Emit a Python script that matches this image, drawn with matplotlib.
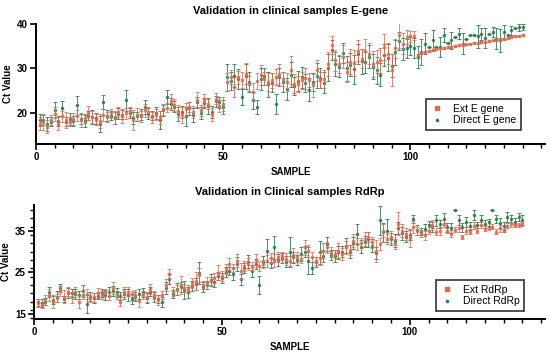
import numpy as np
import matplotlib
matplotlib.use('Agg')
import matplotlib.pyplot as plt
from matplotlib.ticker import MultipleLocator
from matplotlib.lines import Line2D

plt.rcParams['font.family'] = ['Liberation Sans', 'DejaVu Sans']

# E gene: Ct values per sample
ext_e = [17.6, 18.0, 16.9, 18.4, 19.8, 17.6, 19.2, 18.4, 18.0, 18.6,
         19.4, 18.4, 18.8, 19.9, 19.1, 18.5, 18.2, 19.5, 19.0, 19.9,
         19.0, 20.2, 19.3, 19.9, 20.4, 18.4, 19.6, 19.2, 20.6, 20.2,
         19.0, 19.6, 19.0, 20.8, 21.2, 22.6, 21.8, 20.4, 19.6, 20.8,
         21.3, 20.2, 23.0, 20.6, 22.8, 22.0, 19.6, 23.2, 21.6, 22.0,
         27.0, 28.0, 25.8, 28.0, 27.4, 28.8, 26.6, 24.7, 27.2, 28.5,
         27.7, 27.0, 27.3, 28.0, 28.8, 27.6, 27.0, 29.6, 26.6, 26.4,
         27.3, 27.8, 27.4, 26.2, 29.6, 27.3, 27.6, 31.0, 35.2, 31.8,
         31.0, 32.6, 29.2, 31.5, 31.2, 34.0, 32.2, 34.0, 33.3, 31.0,
         31.5, 31.8, 34.8, 33.3, 29.6, 34.5, 37.5, 35.6, 37.0, 37.2,
         37.4, 33.0, 33.4, 33.8, 34.0, 34.2, 34.4, 34.5, 34.6, 34.8,
         34.9, 35.0, 35.2, 35.3, 35.4, 35.6, 35.7, 35.8, 35.9, 36.0,
         36.2, 36.3, 36.4, 36.6, 36.7, 36.9, 37.0, 37.2, 37.4, 37.6]
ext_e_err = [1.5, 1.8, 1.4, 1.2, 1.6, 1.5, 1.2, 1.8, 1.0, 1.3,
             1.2, 1.5, 1.0, 1.6, 1.4, 1.2, 1.5, 1.3, 1.1, 1.0,
             1.4, 1.2, 1.6, 1.3, 1.0, 2.2, 1.4, 1.2, 1.5, 1.1,
             1.2, 1.3, 1.5, 1.2, 1.0, 1.6, 1.3, 1.4, 1.8, 1.5,
             1.2, 1.4, 1.6, 1.2, 1.4, 1.2, 1.5, 1.3, 1.4, 1.5,
             2.0, 1.6, 2.2, 1.5, 1.8, 2.4, 1.6, 2.0, 1.8, 2.2,
             1.5, 2.0, 1.6, 1.8, 2.2, 1.6, 2.0, 3.2, 2.2, 1.8,
             2.0, 2.4, 1.6, 2.6, 2.4, 1.8, 2.0, 2.8, 2.0, 2.4,
             2.0, 2.6, 2.2, 2.8, 3.0, 2.4, 2.2, 2.6, 2.4, 3.0,
             2.6, 2.8, 3.0, 2.4, 3.6, 2.2, 3.0, 2.4, 1.6, 1.2,
             1.0, 0.3, 0.2, 0.2, 0.2, 0.2, 0.2, 0.2, 0.2, 0.2,
             0.2, 0.2, 0.2, 0.2, 0.2, 0.2, 0.2, 0.2, 0.2, 0.2,
             0.2, 0.2, 0.2, 0.2, 0.2, 0.2, 0.2, 0.2, 0.2, 0.2]
direct_e = [18.4, 18.4, 17.5, 18.0, 20.6, 18.2, 21.0, 18.0, 18.6, 18.2,
            21.7, 18.6, 18.2, 19.4, 19.0, 18.8, 17.6, 22.5, 19.4, 19.4,
            18.8, 19.8, 19.6, 22.8, 20.0, 18.8, 19.2, 19.6, 21.3, 19.8,
            19.4, 20.0, 18.4, 20.6, 23.6, 22.0, 21.4, 19.8, 20.2, 19.2,
            21.0, 19.6, 22.4, 20.0, 22.2, 21.6, 20.2, 22.6, 22.4, 21.4,
            28.0, 27.2, 28.4, 27.6, 23.6, 28.2, 27.0, 22.8, 21.3, 27.6,
            28.2, 26.4, 26.8, 22.0, 28.0, 27.0, 25.4, 28.6, 26.0, 27.2,
            28.0, 26.8, 25.2, 27.0, 28.4, 27.8, 26.8, 30.2, 34.2, 31.0,
            30.4, 33.5, 30.0, 30.8, 29.8, 33.2, 31.6, 31.4, 32.6, 30.4,
            29.6, 28.6, 33.0, 32.4, 30.6, 33.6, 36.2, 34.4, 34.5, 35.0,
            34.6, 32.6, 33.7, 35.6, 34.8, 36.3, 34.8, 34.8, 37.5, 35.8,
            36.3, 37.0, 37.8, 35.6, 36.6, 37.5, 37.5, 37.2, 37.8, 36.8,
            37.8, 38.2, 36.7, 36.3, 38.2, 37.6, 38.6, 39.0, 39.3, 39.3]
direct_e_err = [1.4, 1.2, 1.6, 1.0, 1.8, 1.2, 1.6, 1.0, 1.4, 1.2,
                2.2, 1.2, 1.4, 1.0, 1.6, 1.2, 1.8, 1.6, 1.2, 1.0,
                1.4, 1.2, 1.0, 2.4, 1.2, 1.4, 1.0, 1.2, 1.6, 1.2,
                1.0, 1.4, 2.0, 1.2, 1.6, 1.4, 1.2, 1.6, 1.4, 2.2,
                1.4, 1.6, 1.2, 1.4, 1.2, 1.8, 1.4, 1.2, 1.2, 1.6,
                3.0, 2.0, 2.6, 2.2, 1.8, 2.8, 2.2, 2.0, 1.6, 2.4,
                2.0, 2.8, 2.2, 2.2, 2.0, 2.2, 2.4, 2.8, 2.0, 2.2,
                2.4, 2.0, 2.6, 2.0, 2.8, 2.2, 2.4, 3.0, 2.2, 2.6,
                2.4, 2.2, 2.8, 2.6, 3.2, 2.2, 2.8, 2.4, 2.6, 2.8,
                3.0, 2.6, 2.4, 3.0, 2.6, 2.8, 2.0, 2.4, 2.2, 2.0,
                2.2, 2.4, 3.0, 2.4, 0.0, 2.4, 0.0, 2.2, 1.6, 0.0,
                2.0, 0.0, 1.2, 2.4, 0.0, 0.0, 0.0, 2.6, 1.4, 2.2,
                0.0, 1.2, 2.4, 2.6, 1.6, 0.0, 1.0, 0.0, 0.8, 0.6]

# RdRp: Ct values per sample
ext_r = [17.6, 17.2, 18.4, 19.6, 18.0, 18.8, 20.6, 19.2, 20.4, 19.0,
         20.2, 18.0, 19.6, 19.8, 18.8, 19.0, 20.0, 19.6, 20.2, 19.4,
         21.3, 19.6, 18.0, 20.2, 20.4, 19.8, 19.6, 18.2, 19.6, 19.0,
         21.0, 19.6, 18.4, 19.6, 22.0, 24.5, 20.4, 20.8, 22.0, 21.3,
         21.0, 22.5, 22.9, 24.4, 22.0, 22.5, 22.9, 23.7, 24.9, 24.1,
         25.7, 27.0, 26.0, 27.8, 25.3, 26.5, 27.0, 26.4, 27.8, 26.6,
         27.0, 27.8, 28.4, 27.8, 28.6, 29.0, 28.2, 27.8, 29.2, 28.6,
         28.2, 31.0, 30.2, 28.6, 27.8, 28.4, 30.2, 31.0, 29.8, 29.4,
         30.2, 29.4, 31.0, 30.4, 32.6, 31.8, 32.0, 33.0, 33.5, 32.2,
         30.2, 31.8, 35.0, 33.0, 33.5, 31.8, 36.7, 35.0, 34.2, 33.2,
         35.9, 35.0, 34.3, 33.9, 35.0, 36.3, 34.8, 35.0, 36.7, 35.0,
         34.3, 35.2, 35.6, 33.5, 35.0, 34.8, 36.2, 35.0, 36.4, 35.5,
         35.6, 36.0, 34.8, 35.6, 35.0, 36.2, 36.6, 36.3, 36.4, 36.8]
ext_r_err = [1.0, 0.8, 1.2, 1.4, 1.6, 1.0, 1.2, 1.6, 1.0, 1.4,
             1.2, 1.6, 1.0, 1.2, 0.8, 1.0, 1.2, 1.0, 0.8, 1.0,
             1.4, 1.0, 1.0, 1.2, 1.0, 0.8, 1.2, 1.4, 1.0, 1.2,
             1.2, 1.0, 1.2, 1.0, 1.4, 1.2, 1.0, 1.2, 2.2, 1.0,
             1.0, 1.2, 2.2, 1.6, 1.0, 1.4, 1.0, 1.2, 1.8, 1.2,
             1.2, 1.4, 1.0, 1.6, 2.0, 1.2, 1.4, 1.0, 1.6, 1.2,
             1.0, 1.4, 1.2, 1.6, 1.2, 1.0, 1.4, 1.2, 1.6, 1.2,
             1.0, 1.8, 1.4, 1.2, 1.0, 1.6, 1.8, 1.4, 1.2, 1.0,
             1.8, 1.4, 1.6, 1.2, 1.6, 1.4, 1.2, 1.6, 1.2, 1.4,
             2.6, 1.4, 1.6, 1.2, 1.4, 1.2, 2.8, 1.6, 1.4, 2.2,
             1.4, 1.0, 0.8, 1.0, 0.8, 1.2, 0.8, 1.0, 0.8, 0.6,
             0.8, 0.6, 0.8, 0.4, 0.8, 0.6, 0.8, 0.6, 0.8, 0.6,
             0.4, 0.6, 0.6, 0.8, 0.4, 0.6, 0.6, 0.4, 0.4, 0.6]
direct_r = [17.8, 17.6, 18.0, 20.4, 18.4, 19.2, 21.3, 18.6, 20.0, 20.0,
            19.8, 19.6, 20.6, 17.4, 19.2, 18.8, 19.4, 20.0, 19.6, 20.4,
            20.6, 20.2, 19.4, 19.8, 19.6, 18.6, 19.2, 19.8, 20.2, 18.8,
            20.4, 19.0, 18.6, 18.0, 21.2, 23.4, 19.8, 21.0, 21.4, 20.8,
            20.2, 21.8, 22.2, 24.9, 21.4, 22.0, 23.2, 22.8, 24.2, 23.6,
            25.0, 25.3, 24.6, 27.0, 23.3, 26.0, 27.6, 25.4, 27.0, 22.0,
            27.6, 30.2, 27.2, 31.0, 28.0, 28.4, 27.6, 29.8, 28.6, 28.0,
            29.4, 30.0, 27.8, 26.0, 27.4, 29.8, 29.0, 31.8, 29.2, 29.0,
            29.8, 30.0, 31.4, 30.0, 32.0, 34.3, 31.2, 32.4, 33.0, 31.4,
            29.6, 37.5, 34.6, 35.0, 33.0, 32.6, 35.6, 34.4, 33.6, 34.0,
            37.9, 35.2, 34.8, 35.4, 36.3, 36.0, 37.5, 36.7, 37.9, 35.8,
            35.6, 40.0, 37.5, 35.8, 37.1, 36.2, 38.7, 36.4, 37.5, 36.6,
            37.0, 40.0, 37.8, 36.8, 36.2, 38.3, 37.8, 37.2, 38.3, 37.6]
direct_r_err = [0.8, 1.0, 0.8, 1.2, 1.0, 1.4, 1.0, 0.8, 1.2, 1.0,
                1.2, 1.0, 1.4, 2.2, 1.0, 1.2, 0.8, 1.0, 1.2, 1.0,
                1.2, 1.0, 1.0, 1.2, 1.4, 1.2, 1.0, 1.2, 1.0, 1.2,
                1.0, 1.2, 1.0, 1.2, 1.4, 1.2, 1.0, 1.4, 1.2, 2.2,
                1.4, 1.2, 1.4, 2.6, 1.2, 1.0, 1.4, 1.2, 1.0, 1.2,
                1.2, 1.0, 1.4, 1.6, 1.4, 1.2, 1.6, 1.4, 1.2, 2.2,
                1.4, 2.8, 1.2, 2.8, 1.4, 1.2, 1.4, 3.6, 1.4, 1.2,
                1.6, 1.4, 3.2, 1.4, 1.2, 2.8, 1.4, 1.6, 1.2, 1.4,
                1.6, 1.4, 1.8, 1.6, 1.4, 2.4, 1.6, 1.4, 1.8, 1.6,
                1.4, 3.4, 2.2, 2.8, 1.4, 1.6, 1.4, 1.6, 1.4, 1.2,
                1.0, 1.2, 0.8, 1.2, 1.0, 1.2, 1.4, 1.0, 1.4, 1.0,
                1.2, 0.0, 1.2, 1.0, 1.2, 1.0, 1.2, 0.8, 1.2, 1.0,
                0.8, 0.0, 1.0, 1.2, 1.0, 1.2, 1.0, 0.8, 1.0, 1.2]

ext_color = '#DD6A52'
direct_color = '#2C7C4D'

fig = plt.figure(figsize=(5.5, 3.52), dpi=100)
ax1 = fig.add_axes([36 / 550, 1 - 144 / 352, 509 / 550, 120 / 352])
ax2 = fig.add_axes([34 / 550, 1 - 319 / 352, 511 / 550, 114 / 352])


def draw_panel(ax, ext, ext_err, direct, direct_err, title, labels, ylim, ymajor, yminor, legend_pos):
    x = np.arange(1, len(ext) + 1)
    ax.errorbar(x, direct, yerr=direct_err, fmt='o', ms=1.5, color=direct_color,
                ecolor=direct_color, elinewidth=0.7, capsize=1.4, capthick=0.7, alpha=0.85, zorder=2)
    ax.errorbar(x, ext, yerr=ext_err, fmt='s', ms=1.7, color=ext_color,
                ecolor=ext_color, elinewidth=0.7, capsize=1.4, capthick=0.7, alpha=0.8, zorder=3)
    ax.set_xlim(0, 136)
    ax.set_ylim(*ylim)
    ax.xaxis.set_major_locator(MultipleLocator(50))
    ax.xaxis.set_minor_locator(MultipleLocator(5))
    ax.yaxis.set_major_locator(MultipleLocator(ymajor))
    if yminor:
        ax.yaxis.set_minor_locator(MultipleLocator(yminor))
    for side in ['top', 'right']:
        ax.spines[side].set_visible(False)
    for side in ['left', 'bottom']:
        ax.spines[side].set_linewidth(1.4)
    ax.tick_params(which='major', length=4, width=1.2, labelsize=7, pad=2)
    ax.tick_params(which='minor', length=3, width=1.0)
    for lab in ax.get_xticklabels() + ax.get_yticklabels():
        lab.set_fontweight('bold')
    ax.set_title(title, fontsize=8, fontweight='bold', pad=7)
    ax.set_xlabel('SAMPLE', fontsize=7, fontweight='bold', labelpad=3)
    ax.set_ylabel('Ct Value', fontsize=7, fontweight='bold', labelpad=3)
    handles = [Line2D([], [], ls='none', marker='s', ms=2.2, color=ext_color),
               Line2D([], [], ls='none', marker='o', ms=1.6, color=direct_color)]
    leg = ax.legend(handles, labels, loc='upper left', bbox_to_anchor=legend_pos,
                    bbox_transform=fig.transFigure, fontsize=7.5, frameon=True,
                    fancybox=False, borderpad=0.45, handletextpad=0.9,
                    labelspacing=0.15, handlelength=1.2, borderaxespad=0)
    leg.get_frame().set_edgecolor('black')
    leg.get_frame().set_linewidth(1.2)


draw_panel(ax1, ext_e, ext_e_err, direct_e, direct_e_err,
           'Validation in clinical samples E-gene', ['Ext E gene', 'Direct E gene'],
           (13, 40), 10, None, (426 / 550, 1 - 99 / 352))
draw_panel(ax2, ext_r, ext_r_err, direct_r, direct_r_err,
           'Validation in Clinical samples RdRp', ['Ext RdRp', 'Direct RdRp'],
           (13.8, 41.2), 10, 2, (436 / 550, 1 - 280 / 352))
ax2.set_yticks([15, 25, 35])

fig.savefig('out.png', dpi=100)
